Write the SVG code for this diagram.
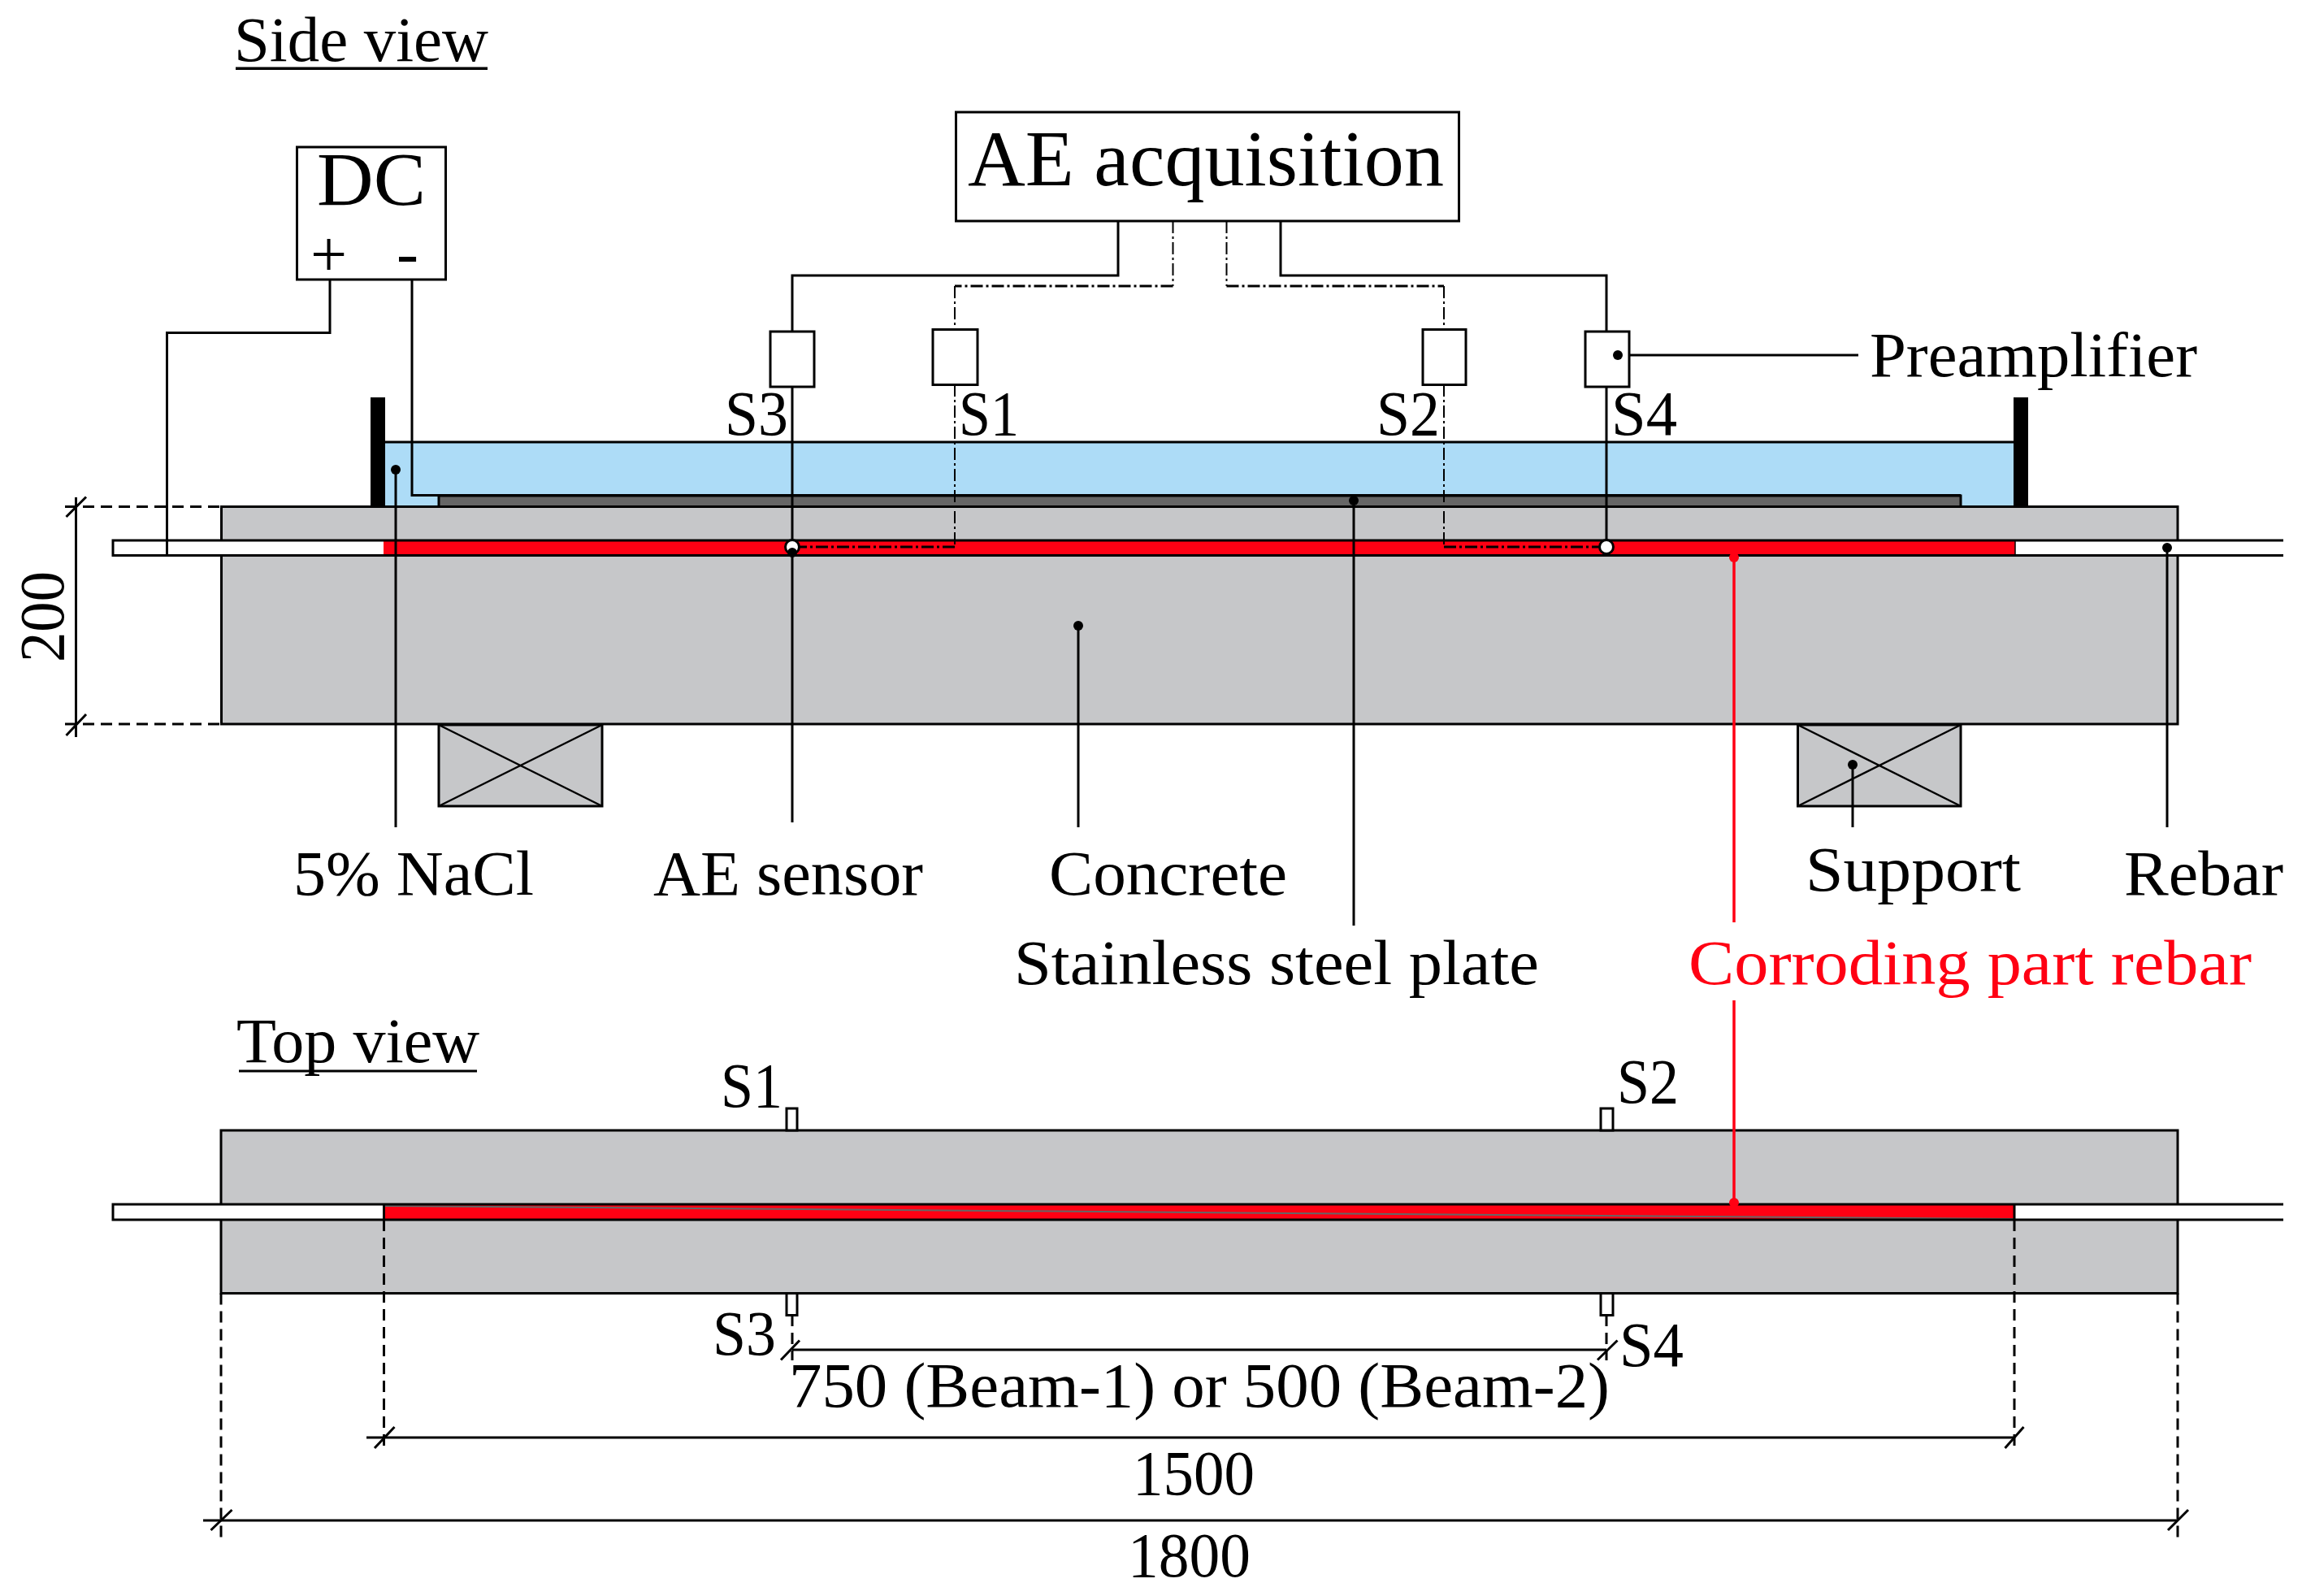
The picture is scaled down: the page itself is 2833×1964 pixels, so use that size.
<svg xmlns="http://www.w3.org/2000/svg" width="2833" height="1964" viewBox="0 0 2833 1964">
<style>
text{font-family:"Liberation Serif","Times New Roman",serif;fill:#000;font-size:78px}
.l{fill:none;stroke:#000;stroke-width:3}
.t{fill:none;stroke:#000;stroke-width:2.5}
.b{fill:#fff;stroke:#000;stroke-width:3}
.c{fill:#c6c7c9;stroke:#000;stroke-width:3}
.d{fill:none;stroke:#000;stroke-width:3;stroke-dasharray:14 8}
.dd{fill:none;stroke:#000;stroke-width:2;stroke-dasharray:15 4 3 4}
.dh{fill:none;stroke:#000;stroke-width:3;stroke-dasharray:15 4 3 4}
.dot{fill:#000}
.red{fill:#ff0013}
</style>
<rect width="2833" height="1964" fill="#fff"/>
<g id="titles">
<text x="288" y="75" textLength="313" lengthAdjust="spacingAndGlyphs">Side view</text>
<rect x="290" y="82.500" width="310" height="3.500"/>
<text x="291" y="1307" textLength="299" lengthAdjust="spacingAndGlyphs">Top view</text>
<rect x="294" y="1316.500" width="293" height="3"/>
</g>
<g id="water"><rect x="474" y="544" width="2006" height="79" fill="#addcf7"/><path class="l" d="M474 544H2480"/></g>
<g id="plate"><rect x="540" y="610" width="1873" height="14" fill="#666" stroke="#000" stroke-width="3"/></g>
<g id="beam-side">
<rect class="c" x="272.500" y="623.500" width="2407.500" height="267.500"/>
</g>
<g id="rebar-side">
<rect x="139" y="664.500" width="2672" height="19" fill="#fff"/>
<rect x="472" y="666" width="2008" height="17" fill="#ff0013"/>
<path class="l" d="M2810 665H139V683.500H2810"/>
<path d="M2480 665V683.500" fill="none" stroke="#000" stroke-width="1.500"/>
</g>
<g id="posts"><rect x="456" y="489" width="18" height="134"/><rect x="2478" y="489" width="18" height="134"/></g>
<g id="support-left"><rect class="c" x="540" y="892" width="201" height="100"/><path class="t" d="M540 892L741 992M741 892L540 992"/></g>
<g id="support-right"><rect class="c" x="2212.500" y="892" width="200.500" height="100"/><path class="t" d="M2212.500 892L2413 992M2413 892L2212.500 992"/></g>
<g id="ae-acquisition"><rect class="b" x="1176.500" y="138" width="619" height="134"/><text x="1191" y="228" style="font-size:98px" textLength="586" lengthAdjust="spacingAndGlyphs">AE acquisition</text></g>
<g id="dc"><rect class="b" x="365.500" y="181" width="183" height="163"/><text x="390" y="252" style="font-size:93px" textLength="134" lengthAdjust="spacingAndGlyphs">DC</text>
<text x="382" y="340" style="font-size:80px">+</text><text x="488" y="338" style="font-size:80px" textLength="27" lengthAdjust="spacingAndGlyphs">-</text></g>
<g id="beam-top">
<rect class="c" x="272" y="1391" width="2408" height="200.500"/>
<rect class="b" x="968" y="1364" width="13" height="27"/><rect class="b" x="1970" y="1364" width="15" height="27"/>
<rect class="b" x="968" y="1591.500" width="13" height="27"/><rect class="b" x="1970" y="1591.500" width="15" height="27"/>
<rect x="139" y="1482" width="2671" height="19" fill="#fff"/>
<rect x="472" y="1482" width="2007" height="19" fill="#ff0013"/>
<path d="M472 1484L2479 1500" stroke="#666" stroke-width="2" fill="none"/>
<path class="l" d="M2810 1482H139V1501H2810"/><path class="l" d="M472.500 1482V1501M2479 1482V1501"/>
</g>
<g id="connectors">
<path class="l" d="M406 344V409.500H205.500V683"/>
<path class="l" d="M507 344V609.500H2413"/>
<path class="l" d="M1376 272V339H975V408"/>
<path class="l" d="M1576 272V339H1977V408"/>
<path class="dd" d="M1443.500 272V352"/><path class="dh" d="M1443.500 352H1175"/><path class="dd" d="M1175 352V405"/>
<path class="dd" d="M1509.500 272V352"/><path class="dh" d="M1509.500 352H1777"/><path class="dd" d="M1777 352V405"/>
<path class="l" d="M975 476V1012"/>
<path class="l" d="M1977 476V673"/>
<path class="dd" d="M1175 473V673"/>
<path class="dd" d="M1777 473V673"/>
<path class="dh" d="M1175 673H975M1777 673H1977"/>
<path class="l" d="M487 578V1018"/>
<path class="l" d="M1327 770V1018"/>
<path class="l" d="M1666 616V1139"/>
<path class="l" d="M2280 941V1018"/>
<path class="l" d="M2667 674V1018"/>
<path class="l" d="M1991 437H2287"/>
<path d="M2134 686V1135M2134 1231V1480" fill="none" stroke="#ff0013" stroke-width="3.500"/>
</g>
<g id="preamps">
<rect class="b" x="948" y="408" width="54" height="68"/>
<rect class="b" x="1148" y="405.500" width="55" height="68"/>
<rect class="b" x="1751" y="405.500" width="53" height="68"/>
<rect class="b" x="1951" y="408" width="54" height="68"/>
</g>
<g id="sensor-marks">
<circle class="b" cx="975" cy="673" r="8.500"/><circle class="b" cx="1977" cy="673" r="8.500"/>
<circle class="dot" cx="975" cy="680" r="6"/><circle class="dot" cx="487" cy="578" r="6"/><circle class="dot" cx="1327" cy="770" r="6"/><circle class="dot" cx="1666" cy="616" r="6"/><circle class="dot" cx="2280" cy="941" r="6"/><circle class="dot" cx="2667" cy="674" r="6"/><circle class="dot" cx="1991" cy="437" r="6"/>
<circle cx="2134" cy="686" r="6" fill="#ff0013"/><circle cx="2134" cy="1480" r="6" fill="#ff0013"/>
</g>
<g id="dim-200">
<path class="d" d="M80 623.500H272M80 891H272"/><path class="l" d="M93.500 612V907M81.500 636L106 611.500M81.500 905L106 879"/>
</g>
<g id="dims-top">
<path class="d" d="M472.500 1501V1785M2479 1501V1785M272 1591.500V1892M2680 1591.500V1892M975 1618V1674M1977 1618V1674"/>
<path class="l" d="M975 1661H1977M451 1769H2479M250 1871H2680"/>
<path class="l" d="M961 1673.500L984 1649.500M1966 1673.500L1990.500 1649.500M461 1782L485.500 1756M2467.500 1782L2490.500 1756M259.500 1883L285.500 1858M2668 1883L2693 1858"/>
</g>
<g id="labels">
<text x="892" y="535" textLength="78" lengthAdjust="spacingAndGlyphs">S3</text>
<text x="1180" y="535" textLength="74" lengthAdjust="spacingAndGlyphs">S1</text>
<text x="1694" y="535" textLength="78" lengthAdjust="spacingAndGlyphs">S2</text>
<text x="1983" y="535" textLength="81" lengthAdjust="spacingAndGlyphs">S4</text>
<text x="2301" y="463" textLength="403" lengthAdjust="spacingAndGlyphs">Preamplifier</text>
<text x="361" y="1101" textLength="296" lengthAdjust="spacingAndGlyphs">5% NaCl</text>
<text x="804" y="1101" textLength="332" lengthAdjust="spacingAndGlyphs">AE sensor</text>
<text x="1291" y="1101" textLength="293" lengthAdjust="spacingAndGlyphs">Concrete</text>
<text x="1248" y="1210.500" textLength="646" lengthAdjust="spacingAndGlyphs">Stainless steel plate</text>
<text x="2078" y="1210.500" textLength="693" lengthAdjust="spacingAndGlyphs" class="red" style="fill:#ff0013">Corroding part rebar</text>
<text x="2222" y="1096" textLength="265" lengthAdjust="spacingAndGlyphs">Support</text>
<text x="2614" y="1101" textLength="196" lengthAdjust="spacingAndGlyphs">Rebar</text>
<text transform="translate(78 815) rotate(-90)" textLength="112" lengthAdjust="spacingAndGlyphs">200</text>
<text x="887" y="1361.500" textLength="76" lengthAdjust="spacingAndGlyphs">S1</text>
<text x="1990" y="1357" textLength="76" lengthAdjust="spacingAndGlyphs">S2</text>
<text x="877" y="1667" textLength="78" lengthAdjust="spacingAndGlyphs">S3</text>
<text x="1993" y="1681" textLength="79" lengthAdjust="spacingAndGlyphs">S4</text>
<text x="971" y="1731" textLength="1010" lengthAdjust="spacingAndGlyphs">750 (Beam-1) or 500 (Beam-2)</text>
<text x="1394" y="1839" textLength="150" lengthAdjust="spacingAndGlyphs">1500</text>
<text x="1388" y="1940" textLength="151" lengthAdjust="spacingAndGlyphs">1800</text>
</g>
</svg>
